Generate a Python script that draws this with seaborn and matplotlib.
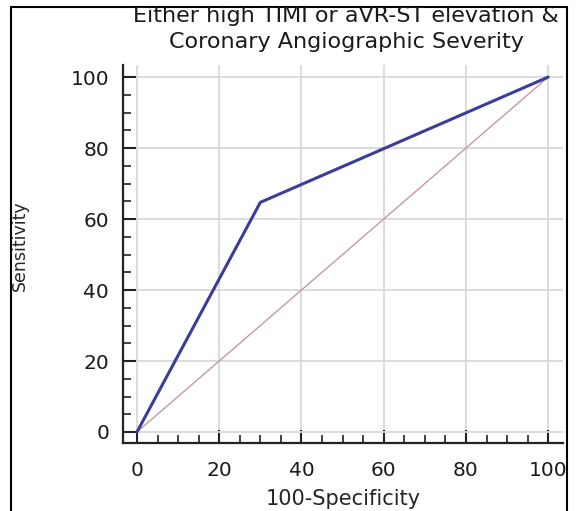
import matplotlib
matplotlib.use("Agg")
import matplotlib.pyplot as plt
import pandas as pd
import seaborn as sns
from matplotlib.patches import Rectangle
from matplotlib.transforms import Bbox, TransformedBbox
from matplotlib.ticker import MultipleLocator

# ROC points
specificity_comp = [0, 30, 100]
sensitivity = [0, 64.7, 100]
reference_line = [0, 100]

title_lines = ["Either high TIMI or aVR-ST elevation &", "Coronary Angiographic Severity"]

sns.set_style("white")
plt.rcParams["font.family"] = ["DejaVu Sans"]
plt.rcParams["text.color"] = "#1a1a1a"

W, H = 577, 511
fig = plt.figure(figsize=(W / 100, H / 100), dpi=100)
ax = fig.add_axes([123 / W, 68 / H, 440 / W, 378 / H])

roc = pd.DataFrame({"x": specificity_comp, "y": sensitivity})
diag = pd.DataFrame({"x": reference_line, "y": reference_line})

sns.lineplot(data=diag, x="x", y="y", ax=ax, color="#c49a9a", linewidth=1.0, zorder=2)
sns.lineplot(data=roc, x="x", y="y", ax=ax, color="#3c3c9a", linewidth=2.2, zorder=3)

ax.set_xlim(-3.4, 103.6)
ax.set_ylim(-3.1, 103.4)
ax.xaxis.set_major_locator(MultipleLocator(20))
ax.yaxis.set_major_locator(MultipleLocator(20))
ax.xaxis.set_minor_locator(MultipleLocator(5))
ax.yaxis.set_minor_locator(MultipleLocator(5))
ax.grid(True, which="major", color="#d9d9d9", linewidth=1.3)
ax.grid(False, which="minor")

for side in ["top", "right"]:
    ax.spines[side].set_visible(False)
for side in ["left", "bottom"]:
    ax.spines[side].set_linewidth(1.6)
    ax.spines[side].set_color("#222222")

ax.tick_params(which="both", bottom=True, left=True, top=False, right=False)
ax.tick_params(which="major", direction="in", length=9.5, width=1.5, color="#222222",
               labelsize=14.5, labelcolor="#1a1a1a", pad=10)
ax.tick_params(which="minor", direction="in", length=5.5, width=1.2, color="#222222")
ax.tick_params(axis="x", which="major", pad=13)

ax.set_xlabel("100-Specificity", fontsize=15, va="center")
ax.set_ylabel("Sensitivity", fontsize=12.5, va="center")
ax.xaxis.set_label_coords(0.5, (443 - 499) / 378)
ax.yaxis.set_label_coords((20 - 123) / 440, 0.5 + (254 - 246) / 378)

clip = TransformedBbox(Bbox([[11 / W, 0], [567 / W, 504 / H]]), fig.transFigure)
for i, line in enumerate(title_lines):
    t = fig.text(346 / W, 1 - (22 + 26 * i) / H, line, ha="center", va="baseline",
                 fontsize=16, color="#1a1a1a")
    t.set_clip_box(clip)
    t.set_clip_on(True)

fig.add_artist(Rectangle((11 / W, -0.05), 556 / W, 504 / H + 0.05, fill=False,
                         edgecolor="black", linewidth=1.5, transform=fig.transFigure))

fig.savefig("out.png", dpi=100)
